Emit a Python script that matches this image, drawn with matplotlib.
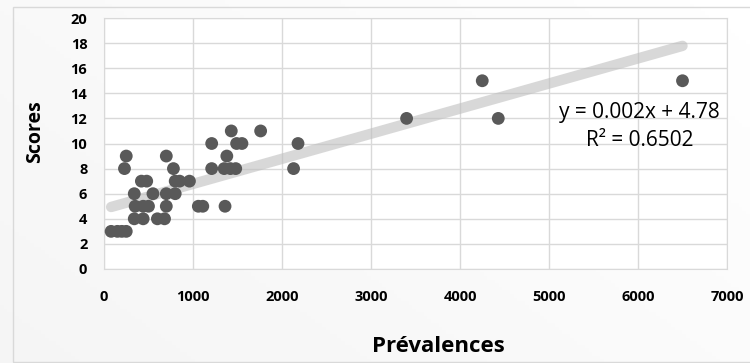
import matplotlib
matplotlib.use('Agg')
import numpy as np
import matplotlib.pyplot as plt
from matplotlib.patches import Rectangle

# valeurs (prévalence, score)
prevalences = [80, 150, 200, 250,
               340, 440, 600, 680,
               350, 440, 500, 700, 1060, 1110, 1360,
               340, 550, 700, 800,
               420, 480, 800, 850, 960,
               230, 780, 1210, 1350, 1420, 1480, 2130,
               250, 700, 1380,
               1210, 1490, 1550, 2180,
               1430, 1760,
               3400, 4430,
               4250, 6500]
scores = [3, 3, 3, 3,
          4, 4, 4, 4,
          5, 5, 5, 5, 5, 5, 5,
          6, 6, 6, 6,
          7, 7, 7, 7, 7,
          8, 8, 8, 8, 8, 8, 8,
          9, 9, 9,
          10, 10, 10, 10,
          11, 11,
          12, 12,
          15, 15]

slope = 0.002
intercept = 4.78
r2 = 0.6502

x_ticks = np.arange(0, 7001, 1000)
y_ticks = np.arange(0, 21, 2)

plt.rcParams['font.family'] = ['Open Sans', 'DejaVu Sans']

W, H = 750, 363
fig = plt.figure(figsize=(7.5, 3.63), dpi=100)
fig.patch.set_facecolor('white')

# fond en dégradé gris clair (style Excel)
bg = fig.add_axes([0, 0, 1, 1], zorder=-10)
gx, gy = np.meshgrid(np.linspace(0, 1, 200), np.linspace(0, 1, 100))
grad = np.clip(0.6 * (1 - gx) + 0.4 * gy, 0, 1)
bg.imshow(grad, cmap='Greys', vmin=0, vmax=12, extent=[0, 1, 0, 1],
          aspect='auto', origin='upper')
bg.add_patch(Rectangle((13 / W, 0.002), 1, (H - 7) / H - 0.002,
                       fill=False, edgecolor='#d9d9d9', lw=1,
                       transform=bg.transAxes))
bg.set_xlim(0, 1)
bg.set_ylim(0, 1)
bg.axis('off')

ax = fig.add_axes([104 / W, (H - 269) / H, 623 / W, 251 / H])
ax.set_facecolor('white')

xs = np.array([min(prevalences), max(prevalences)])
ax.plot(xs, slope * xs + intercept, color='#bfbfbf', lw=7.5, alpha=0.6,
        solid_capstyle='round', zorder=2)
ax.scatter(prevalences, scores, s=85, color='#595959', zorder=3,
           edgecolors='none')

ax.set_xlim(0, 7000)
ax.set_ylim(0, 20)
ax.set_xticks(x_ticks)
ax.set_yticks(y_ticks)
ax.grid(True, color='#d9d9d9', lw=1)
ax.set_axisbelow(True)
for s in ax.spines.values():
    s.set_color('#d9d9d9')
ax.tick_params(length=0, labelsize=10.5)
ax.tick_params(axis='x', pad=15)
ax.tick_params(axis='y', pad=12)
for lab in ax.get_xticklabels() + ax.get_yticklabels():
    lab.set_fontweight('bold')

# titres des axes placés comme dans l'original
fig.text(438 / W, 1 - 347 / H, 'Prévalences', fontsize=16, fontweight='bold',
         ha='center', va='center')
fig.text(35 / W, 1 - 132 / H, 'Scores', fontsize=14, fontweight='bold',
         ha='center', va='center', rotation=90)

ax.text(6020, 12.5, f'y = {slope}x + {intercept}', fontsize=15,
        ha='center', va='center', zorder=4)
ax.text(6020, 10.2, f'R² = {r2}', fontsize=15, ha='center', va='center',
        zorder=4)

plt.savefig('out.png', dpi=100)
